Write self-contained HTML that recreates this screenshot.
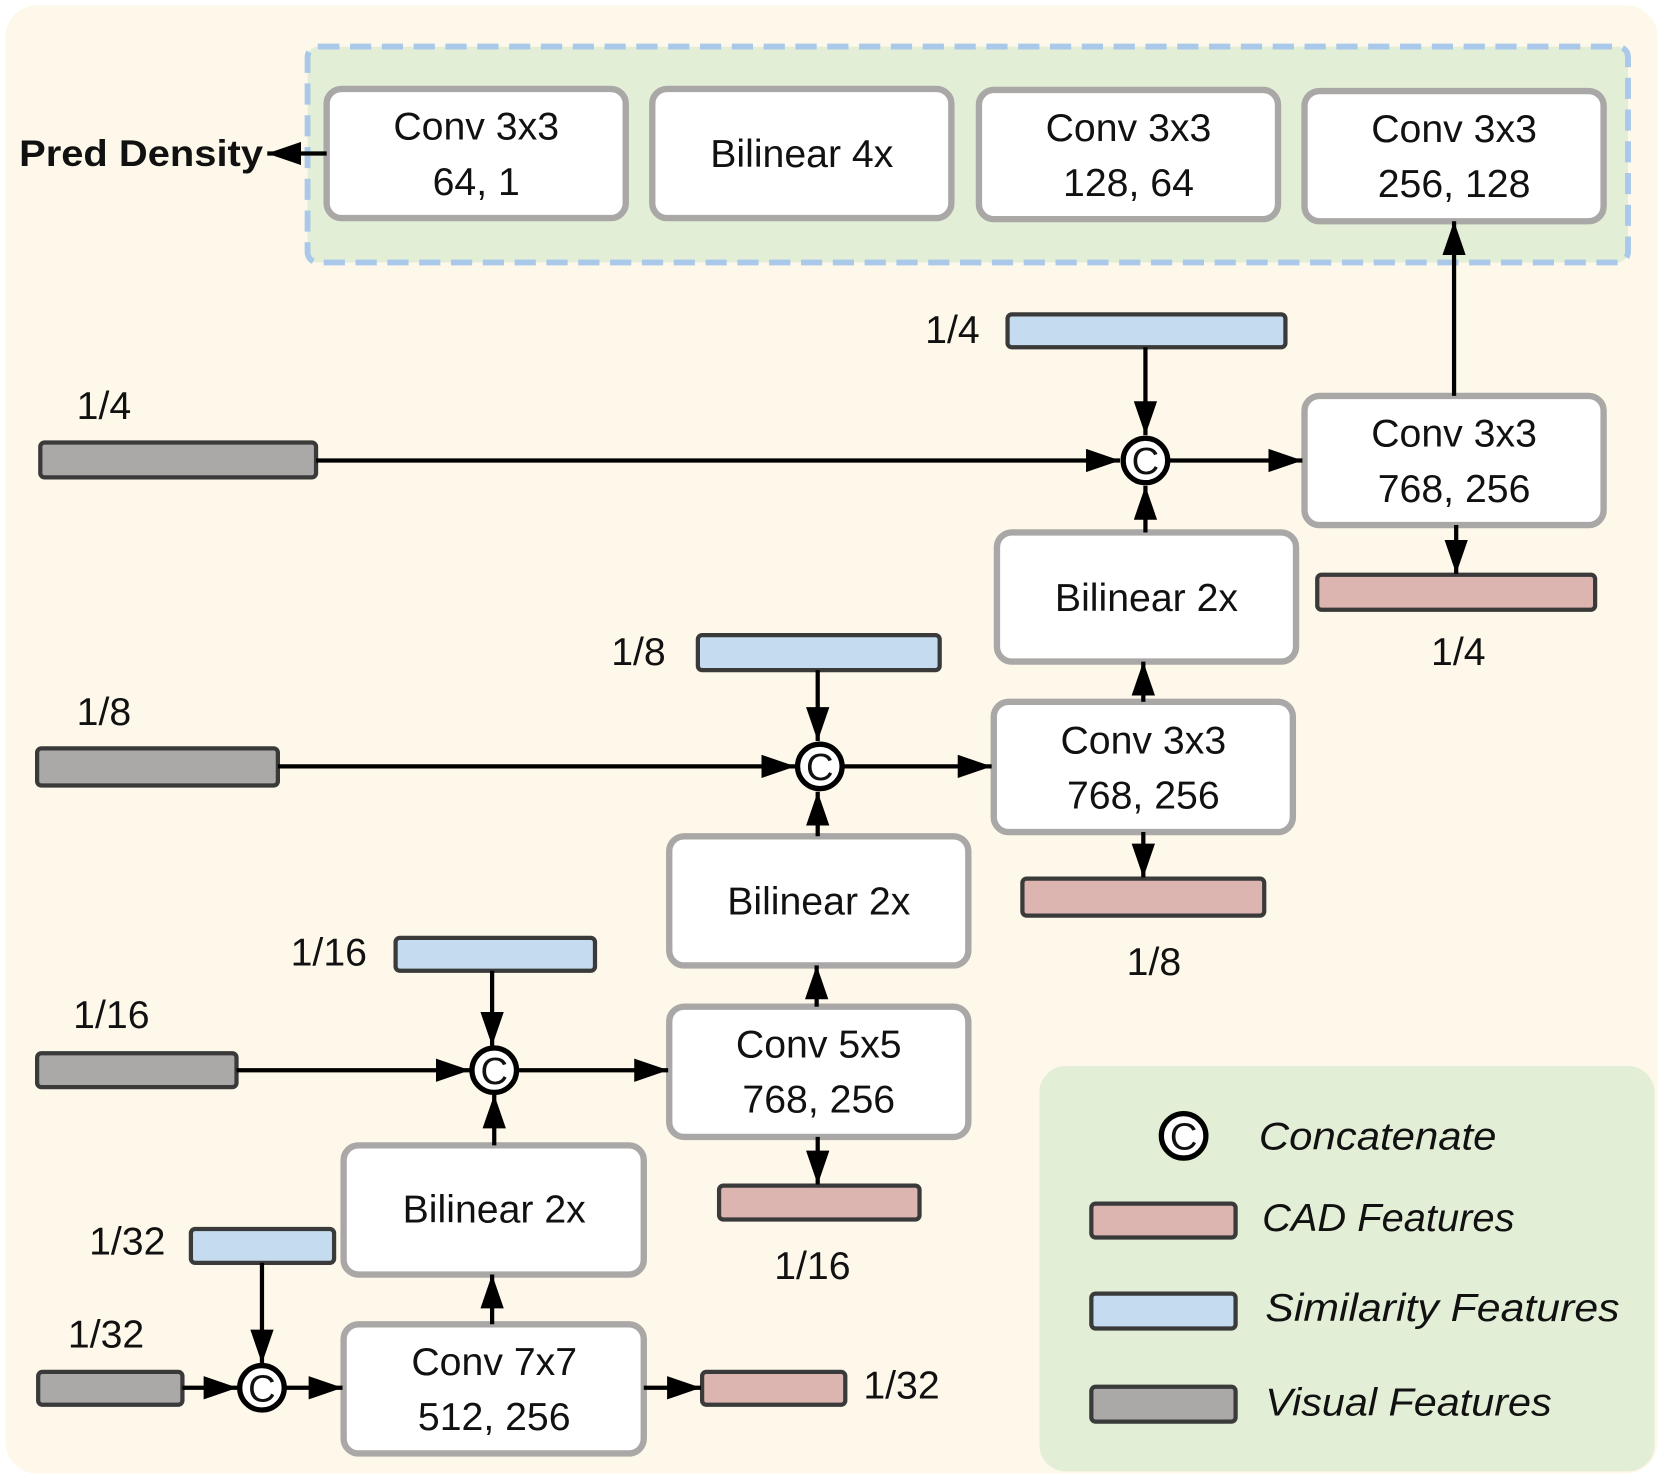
<!DOCTYPE html>
<html><head><meta charset="utf-8"><style>
html,body{margin:0;padding:0;background:#fff;}
svg{display:block;}
text{font-family:"Liberation Sans",sans-serif;fill:#111;}
</style></head><body>
<svg width="1663" height="1482" viewBox="0 0 1568 1400" preserveAspectRatio="none" xmlns="http://www.w3.org/2000/svg">
<defs>
<marker id="b" viewBox="0 0 10 10" refX="10" refY="5" markerWidth="32" markerHeight="22" markerUnits="userSpaceOnUse" orient="auto" preserveAspectRatio="none">
<path d="M0,0 L10,5 L0,10 z" fill="#000"/></marker>
</defs>
<rect x="5" y="5" width="1558" height="1387" rx="30" fill="#fef8ea"/>
<rect x="290" y="44" width="1245" height="204" rx="10" fill="#e2eed5" stroke="#a9c8ea" stroke-width="5.5" stroke-dasharray="20,10"/>
<g fill="#fff" stroke="#aaa7a7" stroke-width="6">
<rect x="308" y="84" width="282" height="122" rx="14"/>
<rect x="615" y="84" width="282" height="122" rx="14"/>
<rect x="923" y="85" width="282" height="122" rx="14"/>
<rect x="1230" y="86" width="282" height="123" rx="14"/>
<rect x="1230" y="374" width="282" height="122" rx="14"/>
<rect x="940" y="503" width="282" height="122" rx="14"/>
<rect x="937" y="663" width="282" height="123" rx="14"/>
<rect x="631" y="790" width="282" height="122" rx="14"/>
<rect x="631" y="951" width="282" height="123" rx="14"/>
<rect x="324" y="1082" width="283" height="122" rx="14"/>
<rect x="324" y="1251" width="283" height="122" rx="14"/>
</g>
<rect x="980" y="1007" width="580" height="383" rx="25" fill="#e2eed5"/>
<g stroke="#3a3a3a" stroke-width="4">
<rect x="950" y="297" width="262" height="31" rx="4" fill="#c5dcf0"/>
<rect x="658" y="600" width="228" height="33" rx="4" fill="#c5dcf0"/>
<rect x="373" y="886" width="188" height="31" rx="4" fill="#c5dcf0"/>
<rect x="180" y="1161" width="135" height="32" rx="4" fill="#c5dcf0"/>
<rect x="1029" y="1222" width="136" height="33" rx="4" fill="#c5dcf0"/>
<rect x="38" y="418" width="260" height="33" rx="4" fill="#aba8a8"/>
<rect x="35" y="707" width="227" height="35" rx="4" fill="#aba8a8"/>
<rect x="35" y="995" width="188" height="32" rx="4" fill="#aba8a8"/>
<rect x="36" y="1296" width="136" height="31" rx="4" fill="#aba8a8"/>
<rect x="1029" y="1310" width="136" height="33" rx="4" fill="#aba8a8"/>
<rect x="1242" y="543" width="262" height="33" rx="4" fill="#dcb4b0"/>
<rect x="964" y="830" width="228" height="35" rx="4" fill="#dcb4b0"/>
<rect x="678" y="1120" width="189" height="32" rx="4" fill="#dcb4b0"/>
<rect x="662" y="1296" width="135" height="31" rx="4" fill="#dcb4b0"/>
<rect x="1029" y="1137" width="136" height="32" rx="4" fill="#dcb4b0"/>
</g>
<g stroke="#000" stroke-width="4" fill="none" marker-end="url(#b)">
<line x1="308" y1="145" x2="252" y2="145"/>
<line x1="1371" y1="374" x2="1371" y2="209"/>
<line x1="1080" y1="328" x2="1080" y2="411"/>
<line x1="298" y1="435" x2="1056" y2="435"/>
<line x1="1102" y1="435" x2="1228" y2="435"/>
<line x1="1373" y1="496" x2="1373" y2="542"/>
<line x1="1080" y1="503" x2="1080" y2="459"/>
<line x1="1078" y1="663" x2="1078" y2="625"/>
<line x1="1078" y1="786" x2="1078" y2="829"/>
<line x1="771" y1="633" x2="771" y2="700"/>
<line x1="262" y1="724" x2="750" y2="724"/>
<line x1="796" y1="724" x2="935" y2="724"/>
<line x1="771" y1="790" x2="771" y2="748"/>
<line x1="770" y1="951" x2="770" y2="912"/>
<line x1="771" y1="1074" x2="771" y2="1119"/>
<line x1="464" y1="917" x2="464" y2="988"/>
<line x1="223" y1="1011" x2="443" y2="1011"/>
<line x1="489" y1="1011" x2="630" y2="1011"/>
<line x1="466" y1="1082" x2="466" y2="1034"/>
<line x1="464" y1="1251" x2="464" y2="1204"/>
<line x1="607" y1="1311" x2="661" y2="1311"/>
<line x1="247" y1="1193" x2="247" y2="1288"/>
<line x1="172" y1="1311" x2="224" y2="1311"/>
<line x1="270" y1="1311" x2="323" y2="1311"/>
</g>
<g stroke="#000" stroke-width="5" fill="#fff">
<circle cx="1080" cy="435" r="21"/>
<circle cx="773" cy="724" r="21"/>
<circle cx="466" cy="1011" r="21"/>
<circle cx="247" cy="1311" r="21"/>
<circle cx="1116" cy="1073" r="21"/>
</g>
<g font-size="36" text-anchor="middle">
<text x="1080" y="448">C</text><text x="773" y="737">C</text><text x="466" y="1024">C</text><text x="247" y="1324">C</text><text x="1116" y="1086">C</text>
</g>
<text x="18" y="157" font-size="35" font-weight="bold" textLength="230" lengthAdjust="spacingAndGlyphs">Pred Density</text>
<g font-size="37" text-anchor="middle">
<text x="449" y="132">Conv 3x3</text><text x="449" y="184">64, 1</text>
<text x="756" y="158">Bilinear 4x</text>
<text x="1064" y="133">Conv 3x3</text><text x="1064" y="185">128, 64</text>
<text x="1371" y="134">Conv 3x3</text><text x="1371" y="186">256, 128</text>
<text x="1371" y="422">Conv 3x3</text><text x="1371" y="474">768, 256</text>
<text x="1081" y="577">Bilinear 2x</text>
<text x="1078" y="712">Conv 3x3</text><text x="1078" y="764">768, 256</text>
<text x="772" y="864">Bilinear 2x</text>
<text x="772" y="999">Conv 5x5</text><text x="772" y="1051">768, 256</text>
<text x="466" y="1155">Bilinear 2x</text>
<text x="466" y="1299">Conv 7x7</text><text x="466" y="1351">512, 256</text>
<text x="898" y="324">1/4</text><text x="98" y="396">1/4</text><text x="1375" y="628">1/4</text>
<text x="602" y="628">1/8</text><text x="98" y="685">1/8</text><text x="1088" y="921">1/8</text>
<text x="310" y="912">1/16</text><text x="105" y="971">1/16</text><text x="766" y="1208">1/16</text>
<text x="120" y="1185">1/32</text><text x="100" y="1273">1/32</text><text x="850" y="1321">1/32</text>
</g>
<g font-size="37" font-style="italic">
<text x="1187" y="1086" textLength="224" lengthAdjust="spacingAndGlyphs">Concatenate</text>
<text x="1190" y="1163" textLength="238" lengthAdjust="spacingAndGlyphs">CAD Features</text>
<text x="1193" y="1248" textLength="334" lengthAdjust="spacingAndGlyphs">Similarity Features</text>
<text x="1193" y="1337" textLength="270" lengthAdjust="spacingAndGlyphs">Visual Features</text>
</g>
</svg>
</body></html>
